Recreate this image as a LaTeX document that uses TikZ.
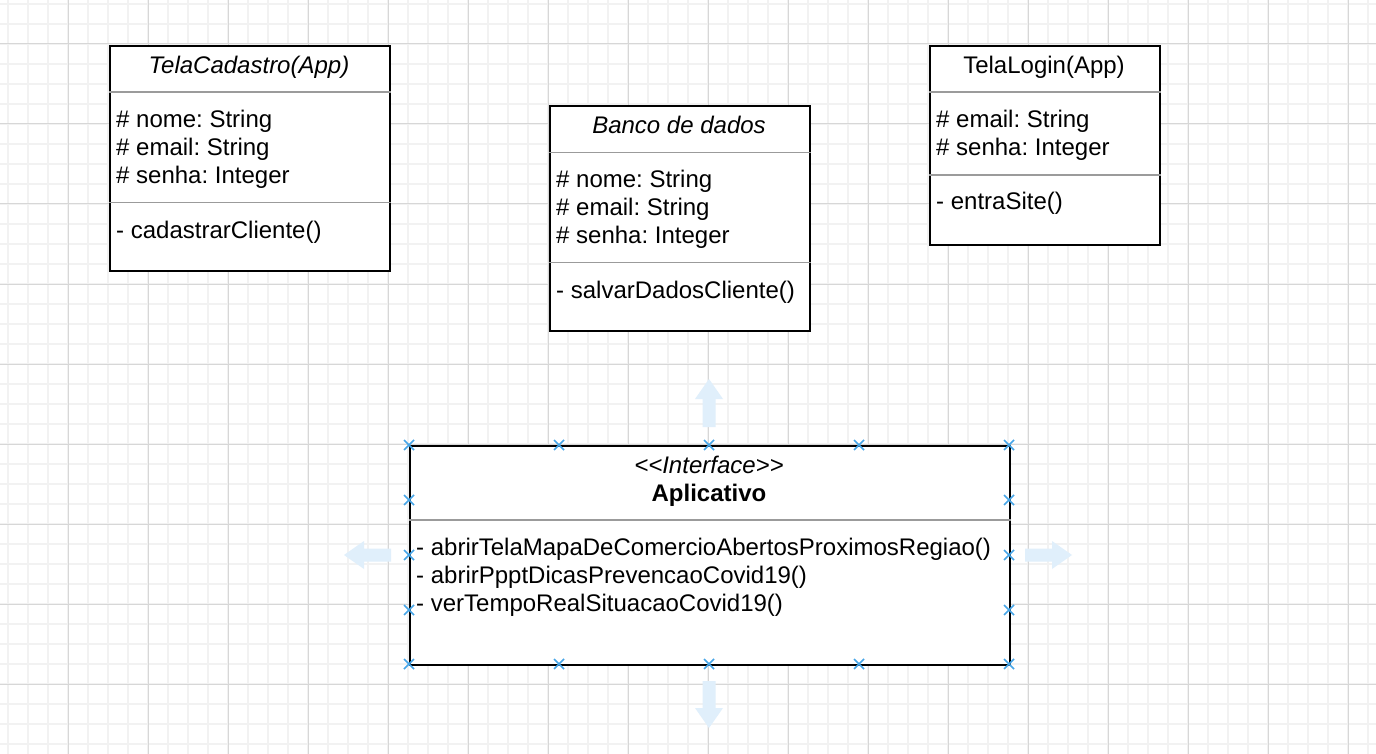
\documentclass[tikz,border=0pt]{standalone}
\usepackage{fontspec}
\setmainfont{Liberation Sans}[Ligatures=TeXOff]
\frenchspacing
\definecolor{gridminor}{RGB}{242,242,242}
\definecolor{gridmajor}{RGB}{215,215,215}
\definecolor{sepgray}{RGB}{155,155,155}
\definecolor{mkblue}{RGB}{70,165,232}
\definecolor{arrblue}{RGB}{224,239,251}
\begin{document}
\begin{tikzpicture}[x=1pt,y=-1pt,
  umlbox/.style={draw=black, line width=2pt, fill=white, inner sep=0pt, anchor=north west},
  sepline/.style={draw=sepgray, line width=1.5pt},
  txt/.style={inner sep=0pt, font=\fontsize{24}{28}\selectfont},
  ttl/.style={txt, anchor=base},
  attr/.style={txt, anchor=base west},
  mk/.style={draw=mkblue, line width=1.7pt},
  blockarrow/.style={fill=arrblue, draw=none}
]
\useasboundingbox (0,0) rectangle (1376,754);
\fill[white] (0,0) rectangle (1376,754);
% grid
\foreach \x in {8,28,...,1368} \draw[gridminor, line width=1.6pt] (\x,0) -- (\x,754);
\foreach \y in {4,24,...,744} \draw[gridminor, line width=1.6pt] (0,\y) -- (1376,\y);
\foreach \x in {68,148,...,1348} \draw[gridmajor, line width=1pt] (\x,0) -- (\x,754);
\foreach \y in {44,124,...,684} \draw[gridmajor, line width=1pt] (0,\y) -- (1376,\y);

% TelaCadastro
\node[umlbox, minimum width=280pt, minimum height=225pt] (cad) at (109,45) {};
\draw[sepline] (cad.west |- 0,92) -- (cad.east |- 0,92);
\draw[sepline] (cad.west |- 0,202.5) -- (cad.east |- 0,202.5);
\node[ttl, font=\fontsize{24}{28}\selectfont\itshape] (cadT) at (249,74) {TelaCadastro(App)};
\node[attr] (cadA1) at (116,127.7) {\# nome: String};
\node[attr] (cadA2) at (116,155.7) {\# email: String};
\node[attr] (cadA3) at (116,183.7) {\# senha: Integer};
\node[attr] (cadM1) at (116,238) {- cadastrarCliente()};

% Banco de dados
\node[umlbox, minimum width=260pt, minimum height=225pt] (bd) at (549,105) {};
\draw[sepline] (bd.west |- 0,152.5) -- (bd.east |- 0,152.5);
\draw[sepline] (bd.west |- 0,262.5) -- (bd.east |- 0,262.5);
\node[ttl, font=\fontsize{24}{28}\selectfont\itshape] (bdT) at (679,134) {Banco de dados};
\node[attr] (bdA1) at (556,187.7) {\# nome: String};
\node[attr] (bdA2) at (556,215.7) {\# email: String};
\node[attr] (bdA3) at (556,243.7) {\# senha: Integer};
\node[attr] (bdM1) at (556,298) {- salvarDadosCliente()};

% TelaLogin
\node[umlbox, minimum width=230pt, minimum height=199pt] (lg) at (929,45) {};
\draw[sepline] (lg.west |- 0,92) -- (lg.east |- 0,92);
\draw[sepline] (lg.west |- 0,175) -- (lg.east |- 0,175);
\node[ttl] (lgT) at (1044,74) {TelaLogin(App)};
\node[attr] (lgA1) at (936,127.7) {\# email: String};
\node[attr] (lgA2) at (936,155.7) {\# senha: Integer};
\node[attr] (lgM1) at (936,210) {- entraSite()};

% Aplicativo
\node[umlbox, minimum width=600pt, minimum height=219pt] (app) at (409,445) {};
\draw[sepline] (app.west |- 0,520) -- (app.east |- 0,520);
\node[ttl, font=\fontsize{24}{28}\selectfont\itshape] (appS) at (709,473) {<<Interface>>};
\node[ttl, font=\fontsize{24}{28}\selectfont\bfseries] (appT) at (709,501) {Aplicativo};
\node[attr] (appM1) at (416,555.5) {- abrirTelaMapaDeComercioAbertosProximosRegiao()};
\node[attr] (appM2) at (416,583.5) {- abrirPpptDicasPrevencaoCovid19()};
\node[attr] (appM3) at (416,611.5) {- verTempoRealSituacaoCovid19()};

% selection markers
\foreach \px/\py in {409/445,559/445,709/445,859/445,1009/445,
                     409/664,559/664,709/664,859/664,1009/664,
                     409/500,409/555,409/610,1009/500,1009/555,1009/610}
  \draw[mk] (\px-5,\py-5) -- (\px+5,\py+5) (\px-5,\py+5) -- (\px+5,\py-5);

% hover block arrows
\fill[blockarrow] (709,379) -- (723,399) -- (715.5,399) -- (715.5,427) -- (702.5,427) -- (702.5,399) -- (695,399) -- cycle;
\fill[blockarrow] (709,728) -- (723,708) -- (715.5,708) -- (715.5,681) -- (702.5,681) -- (702.5,708) -- (695,708) -- cycle;
\fill[blockarrow] (344,555) -- (364,541) -- (364,548.5) -- (391,548.5) -- (391,561.5) -- (364,561.5) -- (364,569) -- cycle;
\fill[blockarrow] (1072,555) -- (1052,541) -- (1052,548.5) -- (1025,548.5) -- (1025,561.5) -- (1052,561.5) -- (1052,569) -- cycle;
\end{tikzpicture}
\end{document}
